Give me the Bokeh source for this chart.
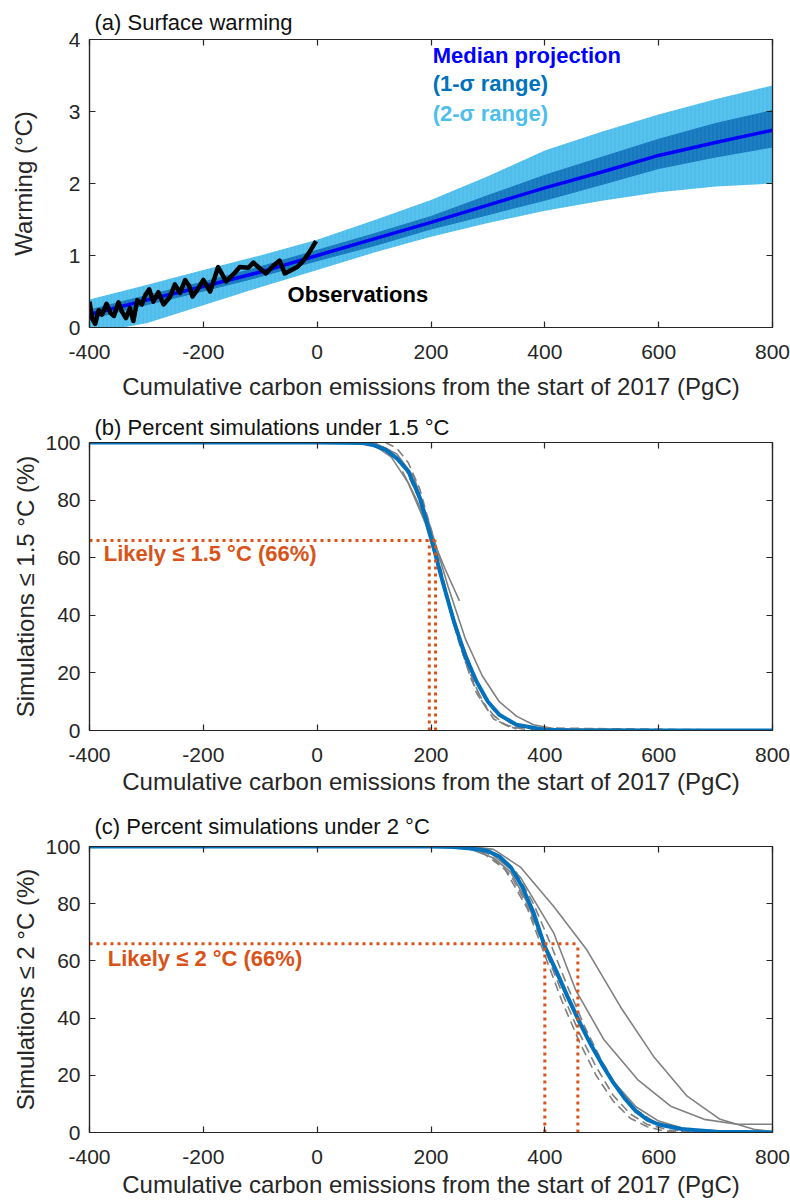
from bokeh.plotting import figure
from bokeh.models import Range1d, LinearAxis, FixedTicker, Title, Label
from bokeh.layouts import column
from bokeh.embed import file_html
from bokeh.resources import INLINE

# ---------------- data ----------------
x_ticks = [-400, -200, 0, 200, 400, 600, 800]
a_y_ticks = [0, 1, 2, 3, 4]
pct_ticks = [0, 20, 40, 60, 80, 100]

# Panel (a): projection (PgC since start of 2017 -> warming, degC)
proj_x = [-400, -300, -200, -100, 0, 100, 200, 300, 400, 500, 600, 700, 800]
proj_median = [0.18, 0.38, 0.57, 0.77, 1.00, 1.23, 1.46, 1.70, 1.94, 2.16, 2.39, 2.57, 2.74]
proj_hi2 = [0.39, 0.59, 0.80, 1.00, 1.22, 1.49, 1.77, 2.10, 2.46, 2.72, 2.96, 3.17, 3.36]
proj_lo2 = [-0.08, 0.06, 0.31, 0.56, 0.80, 1.04, 1.26, 1.45, 1.62, 1.76, 1.88, 1.96, 2.00]
proj_hi1 = [0.25, 0.45, 0.64, 0.85, 1.08, 1.31, 1.55, 1.84, 2.12, 2.37, 2.62, 2.84, 3.02]
proj_lo1 = [0.11, 0.31, 0.50, 0.70, 0.92, 1.13, 1.36, 1.56, 1.76, 1.98, 2.20, 2.36, 2.50]

obs_x = [-400, -395, -390, -384, -378, -370, -363, -357, -349, -343, -336, -329, -323,
         -316, -308, -302, -295, -288, -279, -270, -259, -250, -241, -232, -225, -219,
         -210, -200, -188, -174, -160, -147, -136, -121, -112, -102, -90, -78, -66,
         -57, -45, -35, -25, -15, -8, -2]
obs_y = [0.36, 0.12, 0.05, 0.24, 0.18, 0.33, 0.20, 0.16, 0.35, 0.22, 0.13, 0.27, 0.09,
         0.38, 0.32, 0.45, 0.53, 0.36, 0.49, 0.32, 0.42, 0.60, 0.48, 0.66, 0.58, 0.43,
         0.53, 0.66, 0.50, 0.84, 0.64, 0.74, 0.84, 0.83, 0.90, 0.83, 0.75, 0.85, 0.93,
         0.75, 0.80, 0.84, 0.92, 1.03, 1.12, 1.20]

# Panel (b): percent of simulations <= 1.5 degC
b_med_x = [-400, 0, 80, 100, 120, 140, 160, 180, 200, 220, 240, 260, 280, 300, 320, 350, 400, 450, 800]
b_med_y = [100, 100, 99.8, 99, 97.5, 94.5, 90, 81, 67, 52, 38, 26, 17, 10, 5.5, 2, 0.3, 0, 0]
b_solid = [
    ([-400, 80, 110, 140, 170, 200, 230, 260, 290, 320, 350, 380, 420, 800],
     [100, 100, 99, 96, 88, 70, 50, 32, 19, 10, 5, 2, 0.5, 0]),
    ([-400, 70, 100, 130, 160, 190, 220, 250, 280, 310, 340, 380, 800],
     [100, 100, 99, 95, 86, 72, 52, 33, 17, 7, 2.5, 0.5, 0]),
    ([150, 175, 200, 225, 250],
     [90, 80, 68, 56, 45]),
]
b_dashed = [
    ([-400, 90, 120, 150, 180, 210, 240, 270, 300, 330, 360, 800],
     [100, 100, 98, 93, 80, 60, 37, 18, 7, 2, 0.5, 0]),
    ([120, 140, 160, 180, 200, 220, 240, 260, 290, 320, 350],
     [100, 98, 93, 84, 70, 54, 38, 24, 10, 3, 0.5]),
    ([-400, 100, 130, 160, 190, 220, 250, 280, 310, 340, 800],
     [100, 100, 97, 90, 75, 52, 30, 13, 4, 1, 0]),
]
b_likely_x = [197, 208]

# Panel (c): percent of simulations <= 2 degC
c_med_x = [-400, 200, 240, 270, 300, 320, 340, 360, 380, 400, 420, 440, 460, 480, 500,
           520, 540, 560, 580, 600, 640, 700, 800]
c_med_y = [100, 100, 99.8, 99.3, 98.4, 96.5, 92.8, 86, 77, 65, 56.5, 47.5, 39, 31, 24,
           17.5, 12, 7.5, 4.5, 2.8, 1.2, 0.3, 0]
c_solid = [
    ([-400, 270, 310, 357, 416, 474, 533, 591, 650, 708, 767, 800],
     [100, 100, 99, 92.8, 78.9, 63.8, 43.9, 26.6, 12.7, 4.6, 1.1, 0.3]),
    ([-400, 260, 300, 357, 416, 454, 504, 563, 621, 680, 738, 800],
     [100, 100, 98.5, 89.3, 69.6, 49.9, 32.4, 18.5, 9.2, 4.6, 2.9, 2.9]),
    ([-400, 230, 270, 310, 340, 370, 400, 430, 460, 490, 520, 560, 600, 650, 800],
     [100, 100, 99, 96, 91, 80, 65, 51, 38, 27, 18, 9, 4, 1, 0]),
]
c_dashed = [
    ([-400, 250, 290, 330, 370, 400, 430, 460, 490, 520, 550, 580, 610, 800],
     [100, 100, 98, 92, 78, 62, 46, 32, 20, 11, 5, 2, 0.5, 0]),
    ([-400, 270, 310, 350, 380, 410, 440, 470, 500, 530, 560, 590, 630, 680, 800],
     [100, 100, 98, 91, 80, 66, 51, 37, 25, 15, 8, 4, 1.5, 0.3, 0]),
    ([-400, 260, 300, 340, 370, 400, 430, 460, 490, 520, 550, 580, 620, 800],
     [100, 100, 97.5, 90, 79, 64, 49, 35, 23, 13, 6.5, 2.8, 0.8, 0]),
]
c_likely_x = [400, 458]
likely_pct = 66

# ---------------- style ----------------
FONT = "Liberation Sans"
AX = "#262626"
ORANGE = "#D95319"
BLUE = "#0072BD"
LIGHT = "#58C2EF"
GRAY = "#808080"
XLABEL = "Cumulative carbon emissions from the start of 2017 (PgC)"


def base_fig(height, b_top, b_bottom, ylim, yticks, ylabel, ylab_standoff,
             xlab_standoff, title, title_standoff):
    p = figure(width=790, height=height, title=None,
               x_range=Range1d(-400, 800), y_range=Range1d(*ylim),
               output_backend="svg", toolbar_location=None,
               min_border_left=89, min_border_right=18,
               min_border_top=b_top, min_border_bottom=b_bottom)
    p.grid.visible = False
    p.outline_line_color = AX
    p.outline_line_width = 1.2
    p.background_fill_color = "white"
    p.border_fill_color = "white"

    for ax, ticks in ((p.xaxis[0], x_ticks), (p.yaxis[0], yticks)):
        ax.ticker = FixedTicker(ticks=ticks)
        ax.major_label_overrides = {t: str(t) for t in ticks}
        ax.minor_tick_line_color = None
        ax.major_tick_in = 6
        ax.major_tick_out = 0
        ax.axis_line_color = AX
        ax.axis_line_width = 1.2
        ax.major_tick_line_color = AX
        ax.major_tick_line_width = 1.2
        ax.major_label_text_font = FONT
        ax.major_label_text_font_size = "21px"
        ax.major_label_text_color = AX
        ax.axis_label_text_font = FONT
        ax.axis_label_text_font_size = "24px"
        ax.axis_label_text_font_style = "normal"
        ax.axis_label_text_color = AX

    p.xaxis[0].axis_label = XLABEL
    p.xaxis[0].major_label_standoff = 17
    p.xaxis[0].axis_label_standoff = xlab_standoff
    p.yaxis[0].axis_label = ylabel
    p.yaxis[0].major_label_standoff = 9
    p.yaxis[0].axis_label_standoff = ylab_standoff

    # tick marks on the top and right edges of the box (no labels)
    for side, ticks in (("right", yticks), ("above", x_ticks)):
        ax = LinearAxis(ticker=FixedTicker(ticks=ticks),
                        major_label_text_font_size="0px",
                        major_label_text_color=None,
                        major_label_standoff=0,
                        major_tick_in=6, major_tick_out=0,
                        minor_tick_line_color=None,
                        axis_line_color=AX, axis_line_width=1.2,
                        major_tick_line_color=AX, major_tick_line_width=1.2)
        p.add_layout(ax, side)

    p.add_layout(Title(text=title, align="left", offset=5, standoff=title_standoff,
                       text_font=FONT, text_font_size="22px",
                       text_font_style="normal", text_color="#111111"), "above")
    return p


def bold_label(p, x, y, text, color):
    p.add_layout(Label(x=x, y=y, text=text, text_font=FONT, text_font_size="22px",
                       text_font_style="bold", text_color=color,
                       text_baseline="middle", text_align="left"))


# ---------------- panel (a) ----------------
pa = base_fig(402, 39, 74, (0, 4), a_y_ticks, "Warming (°C)", 29, 11,
              "(a) Surface warming", 10)
pa.varea(x=proj_x, y1=proj_lo2, y2=proj_hi2, fill_color=LIGHT, fill_alpha=1,
         hatch_pattern="vertical_line", hatch_color="#3DAFE2", hatch_alpha=0.55,
         hatch_scale=4, hatch_weight=1)
pa.varea(x=proj_x, y1=proj_lo1, y2=proj_hi1, fill_color="#1779BD", fill_alpha=1,
         hatch_pattern="vertical_line", hatch_color="#2E8ACB", hatch_alpha=0.6,
         hatch_scale=4, hatch_weight=1)
pa.line(proj_x, proj_median, line_color="#0000FF", line_width=3.5)
pa.line(obs_x, obs_y, line_color="black", line_width=4.5, line_join="round")
bold_label(pa, 203, 3.78, "Median projection", "#0000FF")
bold_label(pa, 203, 3.39, "(1-σ range)", BLUE)
bold_label(pa, 203, 2.97, "(2-σ range)", "#4DBEEE")
bold_label(pa, -52, 0.46, "Observations", "black")


# ---------------- panels (b), (c) ----------------
def pct_panel(p, med_x, med_y, solids, dashes, likely_x, label, label_xy):
    for xs, ys in solids:
        p.line(xs, ys, line_color=GRAY, line_width=1.6)
    for xs, ys in dashes:
        p.line(xs, ys, line_color=GRAY, line_width=1.6, line_dash="9 5")
    p.line(med_x, med_y, line_color=BLUE, line_width=4)
    p.segment(x0=[-400], y0=[likely_pct], x1=[max(likely_x)], y1=[likely_pct],
              line_color=ORANGE, line_width=3, line_dash="3 4")
    p.segment(x0=likely_x, y0=[0] * len(likely_x), x1=likely_x,
              y1=[likely_pct] * len(likely_x),
              line_color=ORANGE, line_width=3, line_dash="3 4")
    bold_label(p, label_xy[0], label_xy[1], label, ORANGE)


pb = base_fig(395, 40, 66, (0, 100), pct_ticks, "Simulations ≤ 1.5 °C (%)", 3, 3,
              "(b) Percent simulations under 1.5 °C", 5)
pct_panel(pb, b_med_x, b_med_y, b_solid, b_dashed, b_likely_x,
          "Likely ≤ 1.5 °C (66%)", (-375, 61.4))

pc = base_fig(403, 49, 67, (0, 100), pct_ticks, "Simulations ≤ 2 °C (%)", 3, 4,
              "(c) Percent simulations under 2 °C", 16)
pct_panel(pc, c_med_x, c_med_y, c_solid, c_dashed, c_likely_x,
          "Likely ≤ 2 °C (66%)", (-368, 61))

layout = column(pa, pb, pc, spacing=0)
open("out.html", "w").write(file_html(layout, INLINE))
